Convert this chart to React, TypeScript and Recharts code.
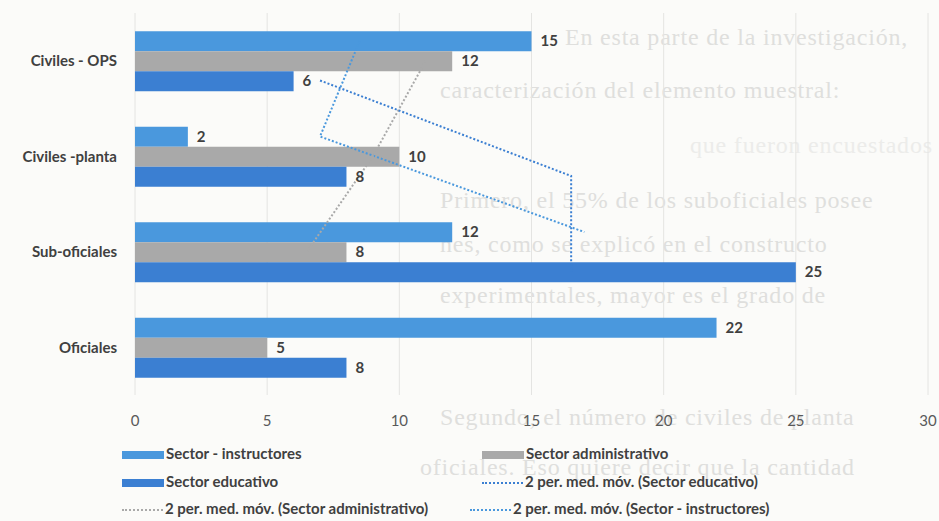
import React from 'react'
import { ComposedChart, Bar, Line, XAxis, YAxis, CartesianGrid, LabelList } from 'recharts'

const categories = ['Civiles - OPS', 'Civiles -planta', 'Sub-oficiales', 'Oficiales']
const instructores = [15, 2, 12, 22]
const administrativo = [12, 10, 8, 5]
const educativo = [6, 8, 25, 8]
const xTicks = [0, 5, 10, 15, 20, 25, 30]

// faint page text showing through behind the chart
const backgroundLines = [
  { x: 565, y: 24, text: 'En esta parte de la investigación,' },
  { x: 440, y: 77, text: 'caracterización del elemento muestral:' },
  { x: 690, y: 132, text: 'que fueron encuestados', faint: true },
  { x: 440, y: 187, text: 'Primero, el 55% de los suboficiales posee' },
  { x: 440, y: 231, text: 'nes, como se explicó en el constructo' },
  { x: 440, y: 282, text: 'experimentales, mayor es el grado de' },
  { x: 440, y: 404, text: 'Segundo, el número de civiles de planta' },
  { x: 420, y: 454, text: 'oficiales. Eso quiere decir que la cantidad' },
]

const COLORS = {
  instructores: '#4a98dd',
  administrativo: '#a9a9a9',
  educativo: '#3b7fd2',
}

// bar slots inside each category band, used to put each trend point on its own bar
const CAT_GAP = 0.19
const SLOT = (1 - 2 * CAT_GAP) / 3
const slotCenter = (i: number, j: number) => i + CAT_GAP + (j + 0.5) * SLOT

// 2-period moving average; the series runs from the bottom category upwards
const movingAvg = (values: number[]) =>
  values.map((v, i) => (i < values.length - 1 ? (v + values[i + 1]) / 2 : null))

const maInstructores = movingAvg(instructores)
const maAdministrativo = movingAvg(administrativo)
const maEducativo = movingAvg(educativo)

const data = categories.map((name, i) => ({
  name,
  instructores: instructores[i],
  administrativo: administrativo[i],
  educativo: educativo[i],
  maInstructores: maInstructores[i],
  maAdministrativo: maAdministrativo[i],
  maEducativo: maEducativo[i],
  pos0: slotCenter(i, 0),
  pos1: slotCenter(i, 1),
  pos2: slotCenter(i, 2),
}))

const FONT = 'Lato, "Open Sans", sans-serif'
const labelStyle = { fill: '#404040', fontSize: 15, fontWeight: 700, fontFamily: FONT }

const Swatch = ({ color, dotted }: { color: string; dotted?: boolean }) =>
  dotted ? (
    <span style={{ display: 'inline-block', width: 41, height: 0, borderTop: `2px dotted ${color}`, marginRight: 2, verticalAlign: 'middle' }} />
  ) : (
    <span style={{ display: 'inline-block', width: 42, height: 8, background: color, marginRight: 2, verticalAlign: 'middle' }} />
  )

const legendItems = [
  { label: 'Sector - instructores', color: COLORS.instructores, x: 122, y: 444 },
  { label: 'Sector administrativo', color: COLORS.administrativo, x: 482, y: 444 },
  { label: 'Sector educativo', color: COLORS.educativo, x: 122, y: 472 },
  { label: '2 per. med. móv. (Sector educativo)', color: COLORS.educativo, x: 482, y: 472, dotted: true },
  { label: '2 per. med. móv. (Sector administrativo)', color: COLORS.administrativo, x: 122, y: 499, dotted: true },
  { label: '2 per. med. móv. (Sector - instructores)', color: COLORS.instructores, x: 470, y: 499, dotted: true },
]

export default function App() {
  return (
    <div style={{ position: 'absolute', left: 0, top: 0, width: 939, height: 521, background: '#fbfbf9', overflow: 'hidden' }}>
      {backgroundLines.map((l) => (
        <div
          key={l.text}
          style={{
            position: 'absolute',
            left: l.x,
            top: l.y,
            whiteSpace: 'nowrap',
            fontFamily: '"Liberation Serif", serif',
            fontSize: 24,
            letterSpacing: 0.8,
            color: l.faint ? '#ececea' : '#dfdfdd',
          }}
        >
          {l.text}
        </div>
      ))}
      <div style={{ position: 'absolute', left: 0, top: 0 }}>
        <ComposedChart
          width={939}
          height={521}
          data={data}
          layout="vertical"
          margin={{ top: 13, right: 11, bottom: 96, left: 0 }}
          barCategoryGap="19%"
          barGap={0}
        >
          <CartesianGrid horizontal={false} stroke="#e4e4e2" />
          <XAxis
            type="number"
            domain={[0, 30]}
            ticks={xTicks}
            height={30}
            axisLine={false}
            tickLine={false}
            tickMargin={14}
            tick={{ fill: '#595959', fontSize: 15, fontFamily: FONT }}
          />
          <YAxis
            type="category"
            dataKey="name"
            width={135}
            axisLine={false}
            tickLine={false}
            tickMargin={12}
            tick={labelStyle}
          />
          <YAxis yAxisId="p0" type="number" dataKey="pos0" domain={[0, 4]} allowDataOverflow hide />
          <YAxis yAxisId="p1" type="number" dataKey="pos1" domain={[0, 4]} allowDataOverflow hide />
          <YAxis yAxisId="p2" type="number" dataKey="pos2" domain={[0, 4]} allowDataOverflow hide />
          <Bar dataKey="instructores" fill={COLORS.instructores} isAnimationActive={false}>
            <LabelList dataKey="instructores" position="right" offset={9} style={labelStyle} />
          </Bar>
          <Bar dataKey="administrativo" fill={COLORS.administrativo} isAnimationActive={false}>
            <LabelList dataKey="administrativo" position="right" offset={9} style={labelStyle} />
          </Bar>
          <Bar dataKey="educativo" fill={COLORS.educativo} isAnimationActive={false}>
            <LabelList dataKey="educativo" position="right" offset={9} style={labelStyle} />
          </Bar>
          <Line yAxisId="p0" dataKey="maInstructores" type="linear" stroke={COLORS.instructores} strokeWidth={2} strokeDasharray="2 2" dot={false} isAnimationActive={false} />
          <Line yAxisId="p1" dataKey="maAdministrativo" type="linear" stroke={COLORS.administrativo} strokeWidth={2} strokeDasharray="2 2" dot={false} isAnimationActive={false} />
          <Line yAxisId="p2" dataKey="maEducativo" type="linear" stroke={COLORS.educativo} strokeWidth={2} strokeDasharray="2 2" dot={false} isAnimationActive={false} />
        </ComposedChart>
      </div>
      {legendItems.map((it) => (
        <div
          key={it.label}
          style={{
            position: 'absolute',
            left: it.x,
            top: it.y,
            whiteSpace: 'nowrap',
            fontFamily: FONT,
            fontWeight: 700,
            fontSize: 15,
            color: '#404040',
            lineHeight: '18px',
          }}
        >
          <Swatch color={it.color} dotted={it.dotted} />
          {it.label}
        </div>
      ))}
    </div>
  )
}
